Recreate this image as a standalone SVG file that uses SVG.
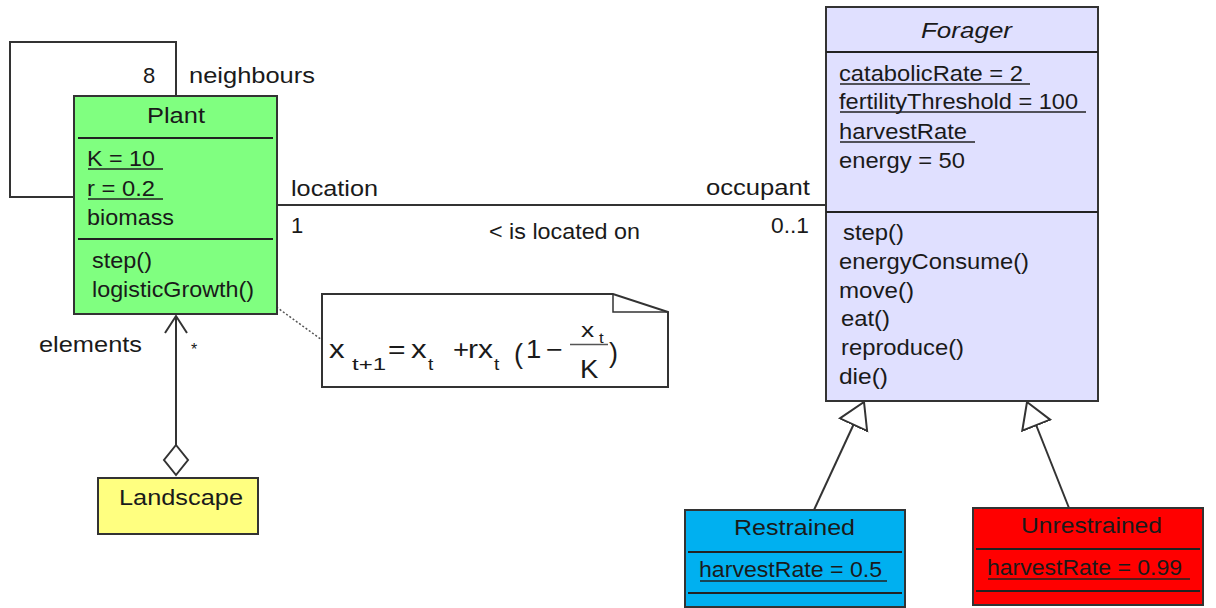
<svg xmlns="http://www.w3.org/2000/svg" width="1216" height="608" viewBox="0 0 1216 608">
  <style>
    text { font-family: "Liberation Sans", Arial, sans-serif; font-size: 22px; fill: #1a1a1a; }
    .box { stroke: #333; stroke-width: 2; }
    .div { stroke: #222; stroke-width: 2; }
    .ul { stroke: #222; stroke-width: 1.5; }
    .edge { fill: none; stroke: #333; stroke-width: 2; }
    .fm { font-size: 25px; }
    .sub { font-size: 16px; }
  </style>
  <defs>
    <marker id="gen" markerUnits="userSpaceOnUse" markerWidth="30" markerHeight="34" refX="26" refY="17" orient="auto" viewBox="0 0 30 34">
      <path d="M1,2 L26,17 L1,32 Z" fill="#fff" stroke="#333" stroke-width="2"/>
    </marker>
  </defs>

  <!-- connectors -->
  <g id="connectors">
    <!-- neighbours self association -->
    <polyline class="edge" points="176,96 176,42 10,42 10,197 74,197"/>
    <!-- location / occupant association -->
    <line class="edge" x1="277" y1="205" x2="826" y2="205"/>
    <!-- aggregation Landscape -> Plant -->
    <line class="edge" x1="176" y1="316" x2="176" y2="445"/>
    <polyline class="edge" points="165,333 176,316 187,333"/>
    <polygon points="176,445 188,460 176,475 164,460" fill="#fff" stroke="#333" stroke-width="2"/>
    <!-- note anchor -->
    <line x1="257" y1="293" x2="322" y2="340" stroke="#555" stroke-width="1.5" stroke-dasharray="2,2"/>
    <!-- generalizations -->
    <line class="edge" x1="814" y1="510" x2="864" y2="402" marker-end="url(#gen)"/>
    <line class="edge" x1="1069" y1="508" x2="1027" y2="402" marker-end="url(#gen)"/>
  </g>

  <!-- association labels -->
  <g id="labels">
    <text x="143" y="83">8</text>
    <text x="189" y="83" textLength="126" lengthAdjust="spacingAndGlyphs">neighbours</text>
    <text x="291" y="196" textLength="87" lengthAdjust="spacingAndGlyphs">location</text>
    <text x="291" y="233">1</text>
    <text x="489" y="239" textLength="151" lengthAdjust="spacingAndGlyphs">&lt; is located on</text>
    <text x="706" y="195" textLength="104" lengthAdjust="spacingAndGlyphs">occupant</text>
    <text x="771" y="233" textLength="38" lengthAdjust="spacingAndGlyphs">0..1</text>
    <text x="39" y="352" textLength="103" lengthAdjust="spacingAndGlyphs">elements</text>
    <text x="191" y="355" style="font-size:16px">*</text>
  </g>

  <!-- Plant class -->
  <g id="plant">
    <rect class="box" x="74" y="96" width="203" height="218" fill="#80ff80"/>
    <line class="div" x1="78" y1="138" x2="273" y2="138"/>
    <line class="div" x1="78" y1="239" x2="273" y2="239"/>
    <text x="147" y="123" textLength="58" lengthAdjust="spacingAndGlyphs">Plant</text>
    <text x="87" y="166" textLength="68" lengthAdjust="spacingAndGlyphs">K = 10</text>
    <line class="ul" x1="88" y1="169" x2="163" y2="169"/>
    <text x="87" y="196" textLength="68" lengthAdjust="spacingAndGlyphs">r = 0.2</text>
    <line class="ul" x1="88" y1="199" x2="163" y2="199"/>
    <text x="87" y="225" textLength="87" lengthAdjust="spacingAndGlyphs">biomass</text>
    <text x="92" y="268" textLength="60" lengthAdjust="spacingAndGlyphs">step()</text>
    <text x="92" y="297" textLength="162" lengthAdjust="spacingAndGlyphs">logisticGrowth()</text>
  </g>

  <!-- Landscape class -->
  <g id="landscape">
    <rect class="box" x="98" y="478" width="160" height="56" fill="#ffff80"/>
    <text x="119" y="505" textLength="124" lengthAdjust="spacingAndGlyphs">Landscape</text>
  </g>

  <!-- growth formula note -->
  <g id="note">
    <path d="M322,294 L613,294 L668,312 L668,387 L322,387 Z" fill="#fff" stroke="#333" stroke-width="2"/>
    <polyline points="613,294 613,312 668,312" fill="none" stroke="#333" stroke-width="1.5"/>
    <text class="fm" transform="translate(329,358) scale(1.25,1)">x</text>
    <text class="sub" x="352" y="370" textLength="34" lengthAdjust="spacingAndGlyphs">t+1</text>
    <text class="fm" transform="translate(388,358) scale(1.2,1)">=</text>
    <text class="fm" transform="translate(411,358) scale(1.25,1)">x</text>
    <text class="sub" transform="translate(428,370) scale(1.2,1)">t</text>
    <text class="fm" transform="translate(453,358) scale(1.1,1)">+</text>
    <text class="fm" x="468" y="358" textLength="25" lengthAdjust="spacingAndGlyphs">rx</text>
    <text class="sub" transform="translate(494,370) scale(1.2,1)">t</text>
    <text transform="translate(514,363)" style="font-size:27px">(</text>
    <text class="fm" transform="translate(526,358) scale(1.1,1)">1</text>
    <text class="fm" transform="translate(546,358) scale(1.15,1)">−</text>
    <text transform="translate(581,337) scale(1.25,1)" style="font-size:21px">x</text>
    <text transform="translate(599,343) scale(1.2,1)" style="font-size:14px">t</text>
    <line x1="570" y1="344.5" x2="608" y2="344.5" stroke="#555" stroke-width="1.5"/>
    <text transform="translate(580,378) scale(1.1,1)" style="font-size:25px">K</text>
    <text transform="translate(609,362)" style="font-size:27px">)</text>
  </g>

  <!-- Forager class -->
  <g id="forager">
    <rect class="box" x="826" y="7" width="272" height="394" fill="#e0e0ff"/>
    <line class="div" x1="826" y1="52" x2="1098" y2="52"/>
    <line class="div" x1="826" y1="212" x2="1098" y2="212"/>
    <text x="921" y="38" style="font-style:italic" textLength="91" lengthAdjust="spacingAndGlyphs">Forager</text>
    <text x="839" y="81" textLength="184" lengthAdjust="spacingAndGlyphs">catabolicRate = 2</text>
    <line class="ul" x1="840" y1="84" x2="1030" y2="84"/>
    <text x="839" y="109" textLength="239" lengthAdjust="spacingAndGlyphs">fertilityThreshold = 100</text>
    <line class="ul" x1="840" y1="112" x2="1086" y2="112"/>
    <text x="839" y="139" textLength="128" lengthAdjust="spacingAndGlyphs">harvestRate</text>
    <line class="ul" x1="840" y1="142" x2="975" y2="142"/>
    <text x="839" y="168" textLength="126" lengthAdjust="spacingAndGlyphs">energy = 50</text>
    <text x="843" y="240" textLength="61" lengthAdjust="spacingAndGlyphs">step()</text>
    <text x="839" y="269" textLength="190" lengthAdjust="spacingAndGlyphs">energyConsume()</text>
    <text x="839" y="298" textLength="75" lengthAdjust="spacingAndGlyphs">move()</text>
    <text x="841" y="326" textLength="49" lengthAdjust="spacingAndGlyphs">eat()</text>
    <text x="841" y="355" textLength="123" lengthAdjust="spacingAndGlyphs">reproduce()</text>
    <text x="839" y="384" textLength="49" lengthAdjust="spacingAndGlyphs">die()</text>
  </g>

  <!-- Restrained class -->
  <g id="restrained">
    <rect class="box" x="685" y="510" width="220" height="97" fill="#00b0f0"/>
    <line class="div" x1="688" y1="552" x2="902" y2="552"/>
    <line class="div" x1="688" y1="593" x2="902" y2="593"/>
    <text x="734" y="535" textLength="121" lengthAdjust="spacingAndGlyphs">Restrained</text>
    <text x="699" y="577" textLength="183" lengthAdjust="spacingAndGlyphs">harvestRate = 0.5</text>
    <line class="ul" x1="700" y1="581" x2="887" y2="581"/>
  </g>

  <!-- Unrestrained class -->
  <g id="unrestrained">
    <rect class="box" x="973" y="508" width="230" height="97" fill="#ff0000"/>
    <line class="div" x1="976" y1="549" x2="1200" y2="549"/>
    <line class="div" x1="976" y1="591" x2="1200" y2="591"/>
    <text x="1021" y="533" textLength="141" lengthAdjust="spacingAndGlyphs">Unrestrained</text>
    <text x="987" y="575" textLength="195" lengthAdjust="spacingAndGlyphs">harvestRate = 0.99</text>
    <line class="ul" x1="988" y1="579" x2="1190" y2="579"/>
  </g>
</svg>
